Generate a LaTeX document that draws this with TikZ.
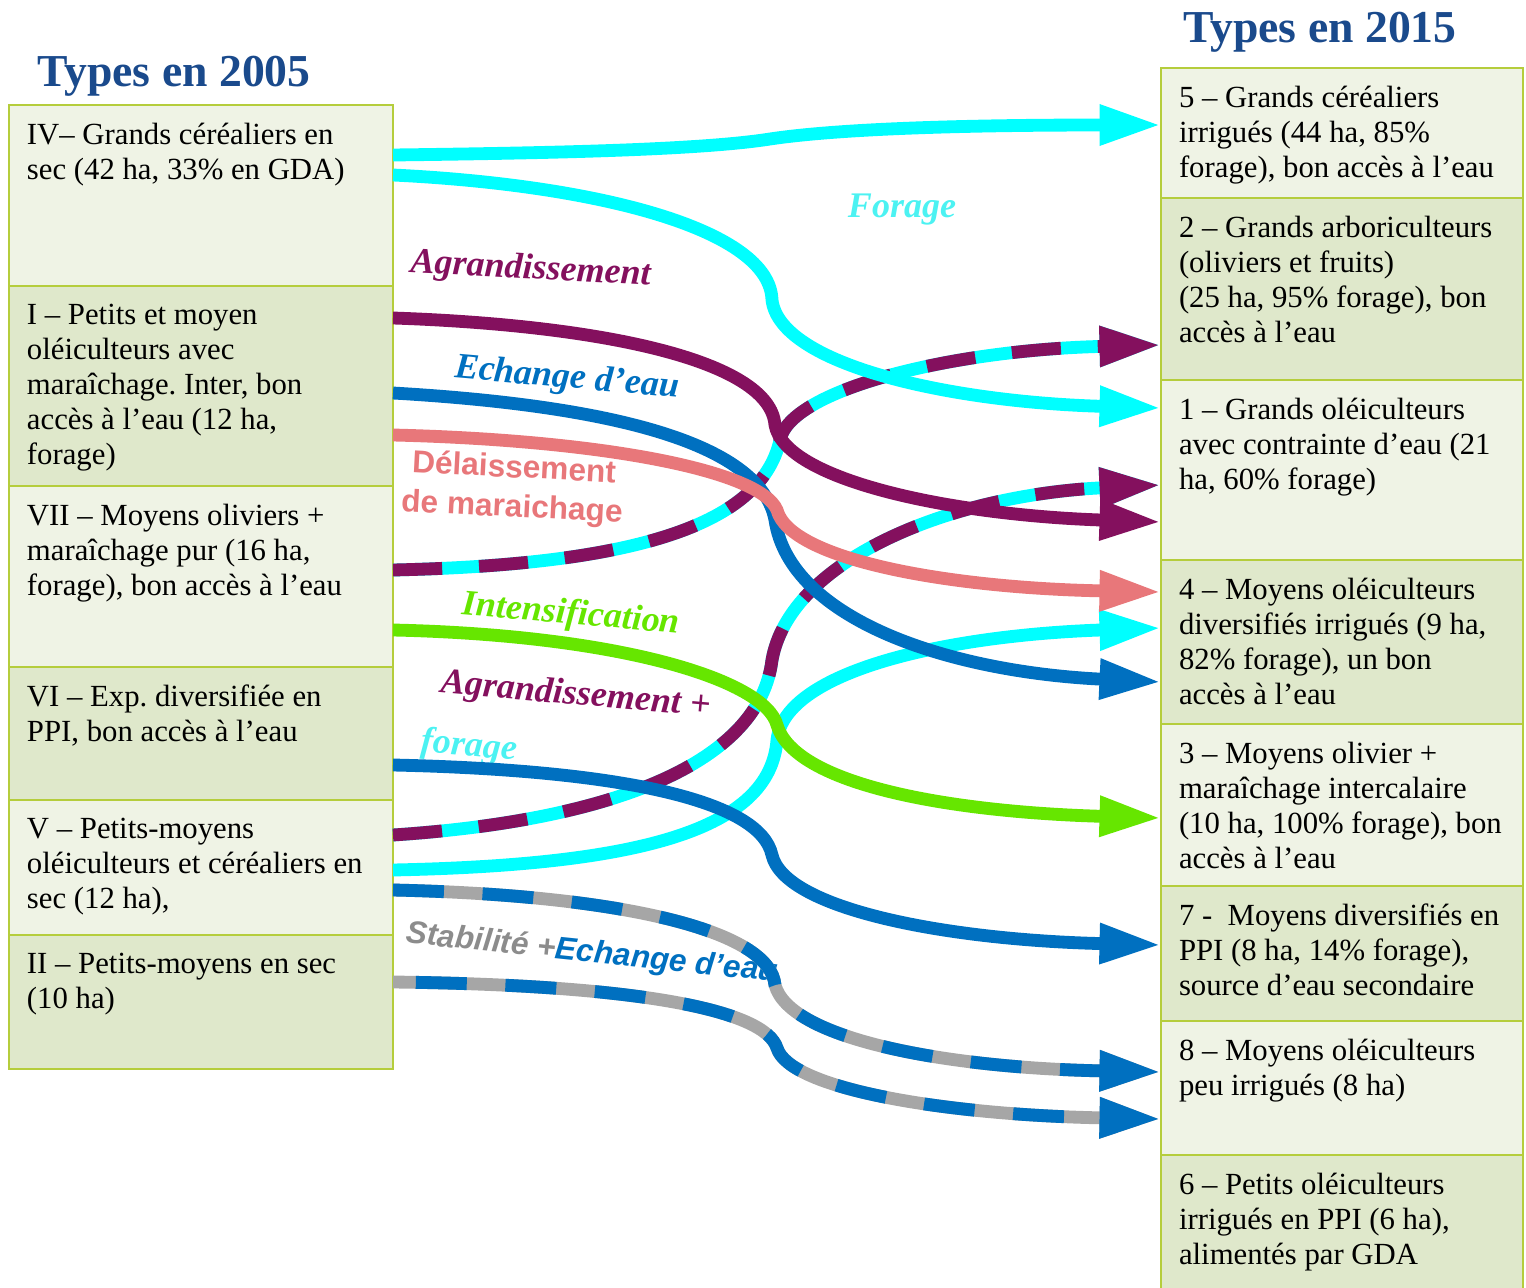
\documentclass[tikz,border=0pt]{standalone}
\usepackage{fontspec}
\setmainfont{Liberation Serif}
\newfontfamily\labsans{Liberation Sans}
\usetikzlibrary{positioning, arrows.meta}
\definecolor{boxline}{HTML}{B5CD3C}
\definecolor{boxlight}{HTML}{EFF3E5}
\definecolor{boxdark}{HTML}{DFE8CB}
\definecolor{titleblue}{HTML}{1A4A8C}
\definecolor{flowcyan}{HTML}{00FFFF}
\definecolor{flowpurple}{HTML}{84105E}
\definecolor{flowblue}{HTML}{0070C0}
\definecolor{flowpink}{HTML}{E8777A}
\definecolor{flowgreen}{HTML}{66E600}
\definecolor{flowgray}{HTML}{A6A6A6}
\definecolor{labcyan}{HTML}{4CF2F2}
\definecolor{labgray}{HTML}{8C8C8C}
\newlength{\pxunit}\setlength{\pxunit}{0.02cm}
\frenchspacing
% cell text: total height (px), text width (px), text
\newcommand{\typecell}[3]{\parbox[c][\dimexpr#1\pxunit-0.72cm\relax][t]{#2\pxunit}{\raggedright #3}}

\begin{document}
\begin{tikzpicture}[
    x=0.02cm, y=-0.02cm,
    every node/.style={font=\fontsize{17.5}{20}\selectfont},
    typebox/.style={draw=boxline, line width=1.1pt, inner xsep=0.36cm, inner ysep=0.36cm, outer sep=0pt, anchor=north west},
    lightcell/.style={typebox, fill=boxlight},
    darkcell/.style={typebox, fill=boxdark},
    yeartitle/.style={font=\fontsize{26}{28}\selectfont\bfseries, text=titleblue, inner sep=0pt, anchor=base west},
    lab/.style={font=\fontsize{20.5}{22}\selectfont\bfseries\itshape, inner sep=0pt},
    sanslab/.style={font=\labsans\fontsize{18}{22.5}\selectfont\bfseries, inner sep=0pt},
    flow/.style={line width=7.3pt, -{Triangle[length=35pt, width=21.5pt]}},
    purpledash/.style={flow, flowpurple, dash pattern=on 28pt off 21pt},
    bluedash/.style={flow, flowblue, dash pattern=on 29pt off 22pt},
  ]
  \useasboundingbox (0,0) rectangle (1526,1288);

  % types 2005
  \node[yeartitle] (t2005) at (37,86) {Types en 2005};
  \node[lightcell] (iv) at (9,105) {\typecell{181}{348}{IV– Grands céréaliers en\\sec (42 ha, 33\% en GDA)}};
  \node[darkcell, below=0pt of iv] (i) {\typecell{200}{348}{I – Petits et moyen\\oléiculteurs avec\\maraîchage. Inter, bon\\accès à l’eau (12 ha,\\forage)}};
  \node[lightcell, below=0pt of i] (vii) {\typecell{181}{348}{VII – Moyens oliviers +\\maraîchage pur (16 ha,\\forage), bon accès à l’eau}};
  \node[darkcell, below=0pt of vii] (vi) {\typecell{133}{348}{VI – Exp. diversifiée en\\PPI, bon accès à l’eau}};
  \node[lightcell, below=0pt of vi] (v) {\typecell{135}{348}{V – Petits-moyens\\oléiculteurs et céréaliers en\\sec (12 ha),}};
  \node[darkcell, below=0pt of v] (ii) {\typecell{134}{348}{II – Petits-moyens en sec\\(10 ha)}};

  % types 2015
  \node[yeartitle] (t2015) at (1183,42) {Types en 2015};
  \node[lightcell] (n5) at (1161,68) {\typecell{130}{326}{5 – Grands céréaliers\\irrigués (44 ha, 85\%\\forage), bon accès à l’eau}};
  \node[darkcell, below=0pt of n5] (n2) {\typecell{182}{326}{2 – Grands arboriculteurs\\(oliviers et fruits)\\(25 ha, 95\% forage), bon\\accès à l’eau}};
  \node[lightcell, below=0pt of n2] (n1) {\typecell{180}{326}{1 – Grands oléiculteurs\\avec contrainte d’eau (21\\ha, 60\% forage)}};
  \node[darkcell, below=0pt of n1] (n4) {\typecell{164}{326}{4 – Moyens oléiculteurs\\diversifiés irrigués (9 ha,\\82\% forage), un bon\\accès à l’eau}};
  \node[lightcell, below=0pt of n4] (n3) {\typecell{162}{326}{3 – Moyens olivier +\\maraîchage intercalaire\\(10 ha, 100\% forage), bon\\accès à l’eau}};
  \node[darkcell, below=0pt of n3] (n7) {\typecell{135}{326}{7 -\ \ Moyens diversifiés en\\PPI (8 ha, 14\% forage),\\source d’eau secondaire}};
  \node[lightcell, below=0pt of n7] (n8) {\typecell{134}{326}{8 – Moyens oléiculteurs\\peu irrigués (8 ha)}};
  \node[darkcell, below=0pt of n8] (n6) {\typecell{140}{326}{6 – Petits oléiculteurs\\irrigués en PPI (6 ha),\\alimentés par GDA}};

  % flow labels
  \node[lab, text=flowpurple, rotate=-3] (agr) at (531,270) {Agrandissement};
  \node[lab, text=labcyan] (forg) at (902,210) {Forage};
  \node[lab, text=flowblue, rotate=-5] (ech) at (567,379) {Echange d’eau};
  \node[sanslab, text=flowpink, rotate=-3, align=center] (del) at (513,489) {Délaissement\\de maraichage};
  \node[lab, text=flowgreen, rotate=-5] (intens) at (571,615) {Intensification};
  \node[lab, text=flowpurple, rotate=-5] (agrfor) at (576,696) {Agrandissement +};
  \node[lab, text=labcyan, rotate=-5] (forb) at (469,747) {forage};
  \node[sanslab, rotate=-6] (stab) at (592,954) {\itshape\textcolor{labgray}{Stabilité +}\textcolor{flowblue}{Echange d’eau}};

  % dashed flows (agrandissement + forage)
  \draw[flow, flowcyan] (vii.east |- 0,570) .. controls (620,565) and (760,530) .. (780,440)
    .. controls (790,390) and (950,350) .. (n2.west |- 0,345);
  \draw[purpledash] (vii.east |- 0,570) .. controls (620,565) and (760,530) .. (780,440)
    .. controls (790,390) and (950,350) .. (n2.west |- 0,345);
  \draw[flow, flowcyan] (v.east |- 0,835) .. controls (620,820) and (760,760) .. (772,660)
    .. controls (790,560) and (950,495) .. (n1.west |- 0,485);
  \draw[purpledash] (v.east |- 0,835) .. controls (620,820) and (760,760) .. (772,660)
    .. controls (790,560) and (950,495) .. (n1.west |- 0,485);

  % forage
  \draw[flow, flowcyan] (v.east |- 0,870) .. controls (640,865) and (770,830) .. (777,740)
    .. controls (785,670) and (950,635) .. (n4.west |- 0,628);
  \draw[flow, flowcyan] (iv.east |- 0,175) .. controls (600,185) and (770,230) .. (772,300)
    .. controls (780,365) and (950,402) .. (n1.west |- 0,408);
  \draw[flow, flowcyan] (iv.east |- 0,155) .. controls (550,153) and (700,150) .. (770,139)
    .. controls (850,127) and (1000,125) .. (n5.west |- 0,125);

  % agrandissement, echange, delaissement
  \draw[flow, flowpurple] (i.east |- 0,318) .. controls (600,325) and (770,360) .. (775,425)
    .. controls (785,480) and (950,515) .. (n1.west |- 0,522);
  \draw[flow, flowblue] (i.east |- 0,393) .. controls (600,405) and (760,440) .. (775,520)
    .. controls (790,620) and (950,672) .. (n4.west |- 0,682);
  \draw[flow, flowpink] (i.east |- 0,435) .. controls (600,440) and (760,470) .. (777,510)
    .. controls (790,560) and (950,588) .. (n4.west |- 0,592);

  % intensification
  \draw[flow, flowgreen] (vii.east |- 0,630) .. controls (620,635) and (765,680) .. (777,725)
    .. controls (795,785) and (950,812) .. (n3.west |- 0,818);
  \draw[flow, flowblue] (vi.east |- 0,765) .. controls (620,770) and (760,800) .. (772,855)
    .. controls (785,910) and (950,940) .. (n7.west |- 0,945);

  % stabilite + echange d'eau
  \draw[flow, flowgray] (v.east |- 0,890) .. controls (620,895) and (770,930) .. (775,985)
    .. controls (790,1040) and (950,1068) .. (n8.west |- 0,1072);
  \draw[bluedash] (v.east |- 0,890) .. controls (620,895) and (770,930) .. (775,985)
    .. controls (790,1040) and (950,1068) .. (n8.west |- 0,1072);
  \draw[flow, flowgray] (ii.east |- 0,982) .. controls (640,985) and (765,1010) .. (777,1048)
    .. controls (790,1090) and (950,1115) .. (n8.west |- 0,1119);
  \draw[bluedash, dash phase=38pt] (ii.east |- 0,982) .. controls (640,985) and (765,1010) .. (777,1048)
    .. controls (790,1090) and (950,1115) .. (n8.west |- 0,1119);
\end{tikzpicture}
\end{document}
